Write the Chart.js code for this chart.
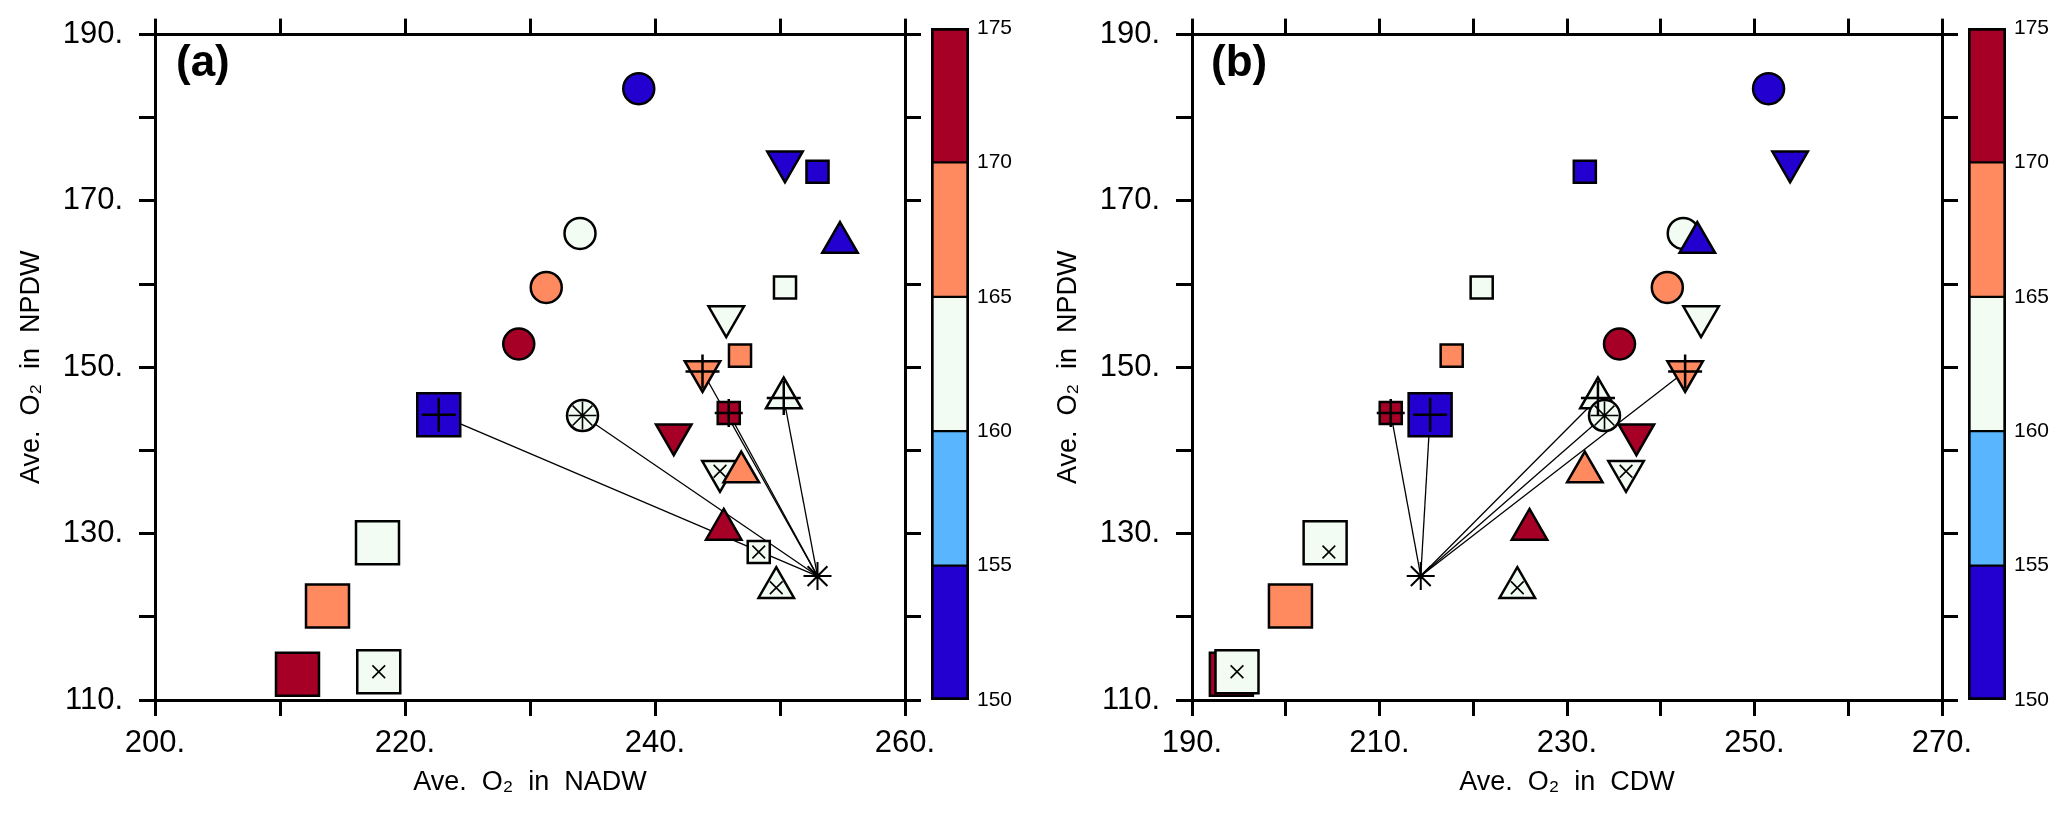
<!DOCTYPE html>
<html lang="en">
<head>
<meta charset="UTF-8">
<title>Ave. O2 NPDW vs NADW / CDW</title>
<script src="https://cdn.jsdelivr.net/npm/chart.js"></script>
<style>
  body { margin: 0; background: #fff; width: 2067px; height: 814px; position: relative; overflow: hidden; }
  canvas { position: absolute; top: 0; }
  .tag { position: absolute; top: 39px; font: bold 44px/44px "Liberation Sans", Arial, sans-serif; color: #000; }
</style>
</head>
<body>
<canvas id="panelA" width="945" height="814" style="left:0px"></canvas>
<canvas id="barA" width="110" height="814" style="left:931px"></canvas>
<canvas id="panelB" width="945" height="814" style="left:1037px"></canvas>
<canvas id="barB" width="99" height="814" style="left:1968px"></canvas>
<div class="tag" style="left:176px">(a)</div>
<div class="tag" style="left:1211px">(b)</div>
<script>
    const FONT = '"Liberation Sans", "DejaVu Sans", sans-serif';

    // marker id per point: shape (o circle, s small square, S big square, ^ up, v down, * asterisk) + inner mark
    const pointIds = ['o', 'v', 's', 'o', '^', 's', 'o', 'v', 'o', 's', 'v+', '^+', 's+', 'S+', 'o*',
                      'v', 'vx', '^', '^', 'sx', 'S', '*', '^x', 'S', 'S', 'Sx'];
    // colour bin (lower bound of the colour bar interval), null = no fill
    const o2Bin = [150, 150, 150, 160, 150, 160, 165, 160, 170, 165, 165, 160, 170, 150, 160,
                   170, 160, 165, 170, 160, 160, null, 160, 165, 170, 160];
    const npdw = [183.5, 174.7, 173.5, 166.1, 165.0, 159.6, 159.6, 156.1, 152.8, 151.4, 149.5, 146.3, 144.5,
                  144.3, 144.2, 141.9, 137.5, 137.4, 130.5, 127.8, 128.9, 124.9, 123.5, 121.3, 113.1, 113.4];
    const nadw = [238.7, 250.4, 253.0, 234.0, 254.8, 250.4, 231.3, 245.7, 229.1, 246.8, 243.8, 250.3, 245.9,
                  222.7, 234.2, 241.5, 245.2, 246.9, 245.5, 248.3, 217.8, 253.0, 249.7, 213.8, 211.4, 217.9];
    const cdw = [251.5, 253.8, 231.9, 242.4, 243.9, 220.9, 240.7, 244.3, 235.6, 217.7, 242.6, 233.3, 211.2,
                 215.4, 234.0, 237.4, 236.3, 231.9, 226.0, 204.6, 204.2, 214.4, 224.7, 200.5, 194.2, 194.8];
    const meanPoint = 21;
    const linked = [13, 14, 10, 12, 11];

    const yTicks = ['110.', '130.', '150.', '170.', '190.'];
    const xTicksA = ['200.', '220.', '240.', '260.'];
    const xTicksB = ['190.', '210.', '230.', '250.', '270.'];
    const cbLevels = [150, 155, 160, 165, 170, 175];

    const binColors = { 150: '#2300cf', 155: '#5ab5ff', 160: '#f3fcf3', 165: '#ff8a5f', 170: '#a60026' };

    const shapes = {
        'o': { style: 'circle', r: 15.5, rot: 0 },
        's': { style: 'rect', r: 15.6, rot: 0 },
        'S': { style: 'rect', r: 30.4, rot: 0 },
        '^': { style: 'triangle', r: 20.5, rot: 0 },
        'v': { style: 'triangle', r: 20.5, rot: 180 },
        '*': { style: 'star', r: 14, rot: 0 }
    };
    const marks = {
        '+': { style: 'cross', r: 17, w: 2.5 },
        '*': { style: 'star', r: 14, w: 1.6 },
        'x': { style: 'crossRot', r: 9, w: 1.6 }
    };

    function axis(pos, min, max, labels, title, size) {
        const horiz = pos === 'top' || pos === 'bottom';
        return {
            type: 'linear', position: pos, min: min, max: max,
            ticks: {
                stepSize: 10, autoSkip: false, maxRotation: 0, color: '#000',
                font: { family: FONT, size: 31 },
                padding: horiz ? 9 : 16,
                callback: v => labels ? (labels.find(l => parseFloat(l) === v) || '') : ''
            },
            grid: { drawOnChartArea: false, drawTicks: true, tickLength: 16, color: '#000', lineWidth: 3 },
            border: { display: true, color: '#000', width: 3 },
            title: title ? {
                display: true, text: title, color: '#000',
                font: { family: FONT, size: 27 },
                padding: horiz ? { top: 0, bottom: 15 } : { top: 15, bottom: 0 }
            } : { display: false },
            afterFit: s => { if (horiz) s.height = size; else s.width = size; }
        };
    }

    function makePanel(id, xs, xmin, xmax, xLabels, xTitle) {
        const pts = xs.map((x, i) => ({ x: x, y: npdw[i] }));
        const datasets = [];

        linked.forEach(t => {
            datasets.push({
                data: [pts[meanPoint], pts[t]],
                showLine: true, borderColor: '#000', borderWidth: 1.3,
                pointRadius: 0, order: 3, clip: false
            });
        });

        datasets.push({
            data: pts,
            pointStyle: pointIds.map(c => shapes[c[0]].style),
            pointRadius: pointIds.map(c => shapes[c[0]].r),
            pointRotation: pointIds.map(c => shapes[c[0]].rot),
            pointBackgroundColor: o2Bin.map(b => b === null ? 'rgba(0,0,0,0)' : binColors[b]),
            pointBorderColor: '#000',
            pointBorderWidth: pointIds.map(c => c[0] === '*' ? 2 : 2.5),
            order: 2, clip: false
        });

        Object.keys(marks).forEach(m => {
            const idx = pointIds.map((c, i) => c[1] === m ? i : -1).filter(i => i >= 0);
            datasets.push({
                data: idx.map(i => pts[i]),
                pointStyle: marks[m].style,
                pointRadius: idx.map(i => (m === '+' && pointIds[i][0] === 's') ? 14 : marks[m].r),
                pointBorderColor: '#000',
                pointBorderWidth: marks[m].w,
                order: 1, clip: false
            });
        });

        new Chart(document.getElementById(id), {
            type: 'scatter',
            data: { datasets: datasets },
            options: {
                responsive: false, animation: false, events: [],
                layout: { padding: 0 },
                plugins: { legend: { display: false }, tooltip: { enabled: false } },
                scales: {
                    x: axis('bottom', xmin, xmax, xLabels, xTitle, 114),
                    y: axis('left', 110, 190, yTicks, 'Ave.  O\u2082  in  NPDW', 155),
                    x2: axis('top', xmin, xmax, null, null, 28),
                    y2: axis('right', 110, 190, null, null, 40)
                }
            }
        });
    }

    function makeBar(id, width) {
        new Chart(document.getElementById(id), {
            type: 'bar',
            data: {
                labels: [''],
                datasets: cbLevels.slice(0, -1).map((lo, i) => ({
                    data: [[lo, cbLevels[i + 1]]],
                    backgroundColor: binColors[lo],
                    borderColor: '#000',
                    borderWidth: { left: 3, right: 3, top: i === cbLevels.length - 2 ? 3 : 1.5, bottom: i === 0 ? 3 : 1.5 },
                    borderSkipped: false,
                    categoryPercentage: 1, barPercentage: 1
                }))
            },
            options: {
                responsive: false, animation: false, events: [],
                layout: { padding: { top: 28, bottom: 114, left: 0, right: 0 } },
                plugins: { legend: { display: false }, tooltip: { enabled: false } },
                scales: {
                    x: { display: false, stacked: true },
                    y: {
                        position: 'right', min: 150, max: 175,
                        ticks: { stepSize: 5, color: '#000', font: { family: FONT, size: 21 }, padding: 8 },
                        grid: { display: false, drawTicks: false },
                        border: { display: false },
                        afterFit: s => { s.width = width - 38; }
                    }
                }
            }
        });
    }

    makePanel('panelA', nadw, 200, 260, xTicksA, 'Ave.  O\u2082  in  NADW');
    makePanel('panelB', cdw, 190, 270, xTicksB, 'Ave.  O\u2082  in  CDW');
    makeBar('barA', 110);
    makeBar('barB', 99);
</script>
</body>
</html>
